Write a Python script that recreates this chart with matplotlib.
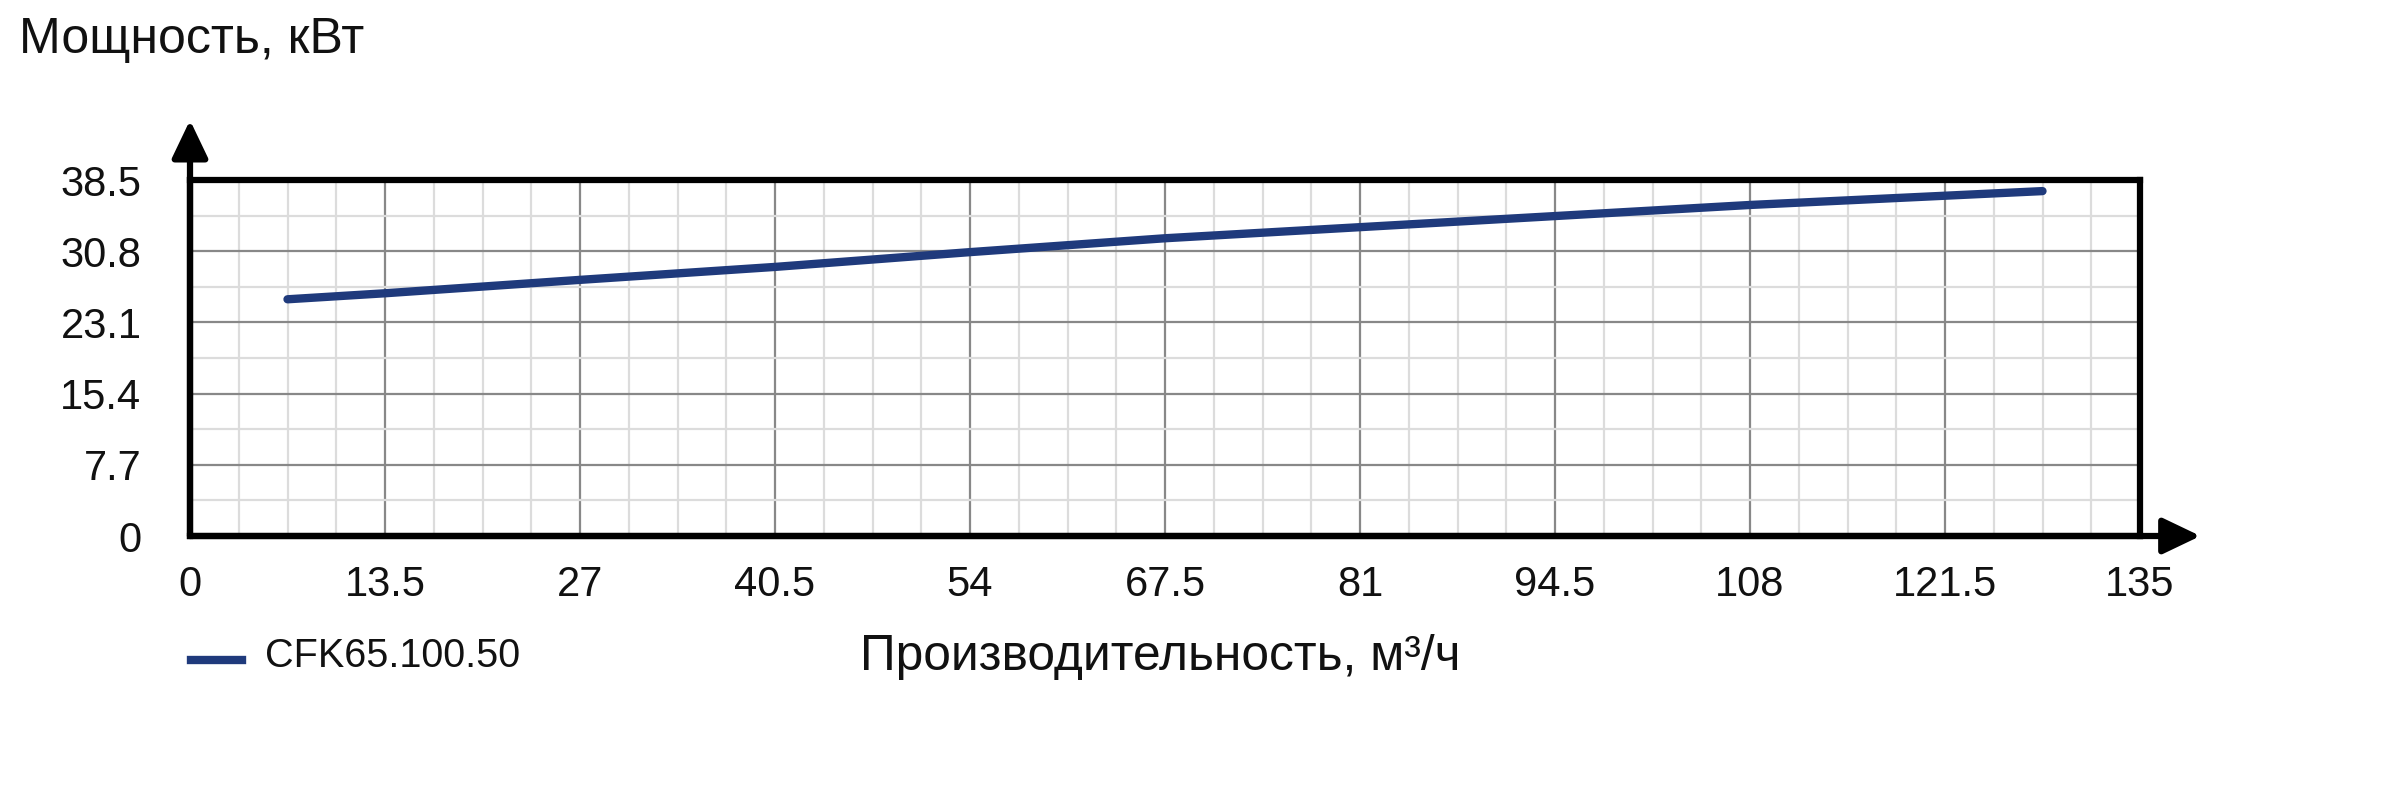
import matplotlib
matplotlib.use("Agg")
import matplotlib.pyplot as plt
from matplotlib.ticker import MultipleLocator

# Data
flow = [6.75, 13.5, 27, 40.5, 54, 67.5, 81, 94.5, 108, 121.5, 128.25]
power = [25.6, 26.25, 27.7, 29.1, 30.7, 32.2, 33.4, 34.6, 35.8, 36.8, 37.3]
series_name = "CFK65.100.50"
x_ticks = [0, 13.5, 27, 40.5, 54, 67.5, 81, 94.5, 108, 121.5, 135]
x_tick_labels = ["0", "13.5", "27", "40.5", "54", "67.5", "81", "94.5", "108", "121.5", "135"]
y_ticks = [0, 7.7, 15.4, 23.1, 30.8, 38.5]
y_tick_labels = ["0", "7.7", "15.4", "23.1", "30.8", "38.5"]
x_label = "Производительность, м³/ч"
y_label = "Мощность, кВт"

plt.rcParams['font.family'] = ['Liberation Sans', 'DejaVu Sans']

line_color = "#1f3a7c"
text_color = "#111111"

fig = plt.figure(figsize=(24, 8), dpi=100)
ax = fig.add_axes([190/2400, 1 - 536/800, 1950/2400, 356/800])

ax.set_xlim(0, 135)
ax.set_ylim(0, 38.5)
ax.set_xticks(x_ticks)
ax.set_xticklabels(x_tick_labels)
ax.set_yticks(y_ticks)
ax.set_yticklabels(y_tick_labels)
ax.xaxis.set_minor_locator(MultipleLocator(3.375))
ax.yaxis.set_minor_locator(MultipleLocator(3.85))
ax.grid(which='major', color='#888888', lw=1.6, zorder=1)
ax.grid(which='minor', color='#dcdcdc', lw=1.6, zorder=0)
ax.set_axisbelow(True)
ax.tick_params(which='both', length=0)
ax.tick_params(axis='x', labelsize=30, pad=21, colors=text_color)
ax.tick_params(axis='y', labelsize=30, pad=35, colors=text_color)

for s in ax.spines.values():
    s.set_linewidth(4.5)
    s.set_color('black')

ax.plot(flow, power, color=line_color, lw=6, solid_capstyle='round', zorder=5)

# Axis arrows
arrow_kw = dict(arrowstyle='-|>,head_length=1.15,head_width=0.55', lw=4.5, color='black',
                shrinkA=0, shrinkB=0, mutation_scale=20)
ax.annotate('', xy=(0, 1.168), xytext=(0, 0), xycoords='axes fraction',
            textcoords='axes fraction', arrowprops=arrow_kw, annotation_clip=False)
ax.annotate('', xy=(1.031, 0), xytext=(0, 0), xycoords='axes fraction',
            textcoords='axes fraction', arrowprops=arrow_kw, annotation_clip=False)

# Titles
fig.text(19/2400, 1 - 53/800, y_label, fontsize=36, ha='left', va='baseline', color=text_color)
fig.text(1160/2400, 1 - 670/800, x_label, fontsize=35.7, ha='center', va='baseline', color=text_color)

# Legend
fig.add_artist(plt.Line2D([191/2400, 242/2400], [1 - 660/800, 1 - 660/800],
                          color=line_color, lw=6, transform=fig.transFigure))
fig.text(265/2400, 1 - 667/800, series_name, fontsize=28.5, ha='left', va='baseline', color=text_color)

fig.savefig("out.png", dpi=100)
